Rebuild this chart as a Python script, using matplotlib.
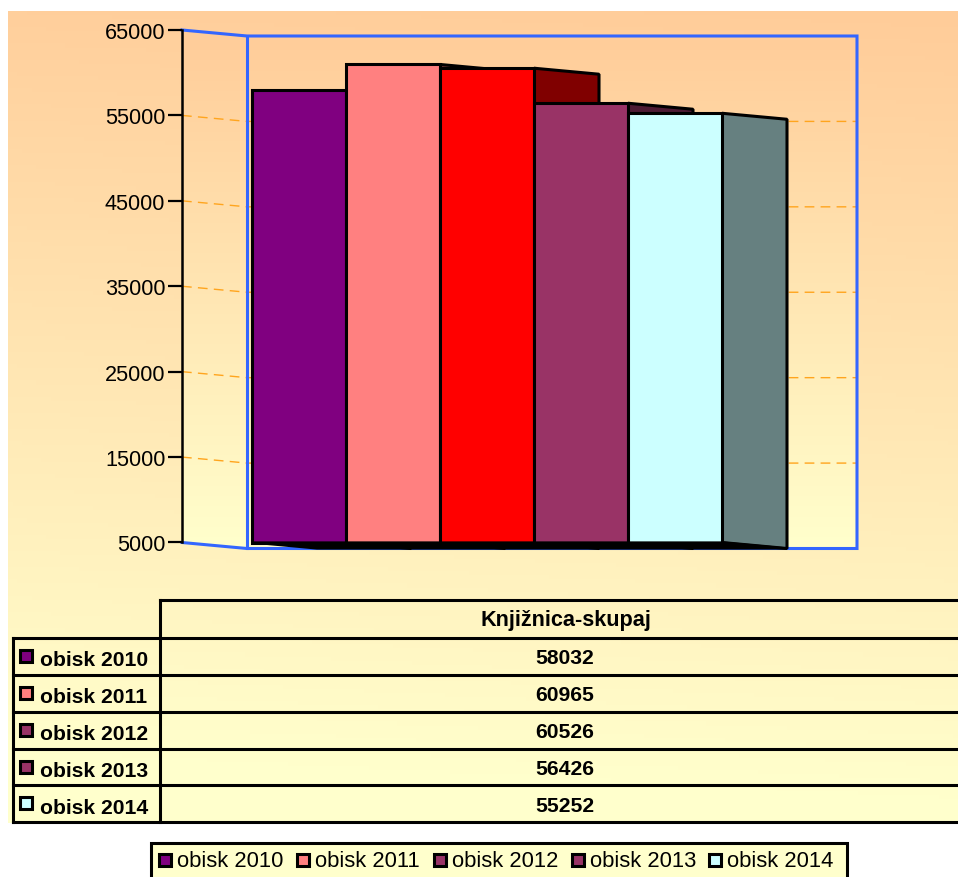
"""Knjiznica-skupaj: visits 2010-2014, old-style 3D bars with a data table below."""
import matplotlib
matplotlib.use("Agg")
import matplotlib.pyplot as plt
from matplotlib.patches import Polygon, Rectangle
import numpy as np

plt.rcParams["font.family"] = ["Liberation Sans", "DejaVu Sans"]

series = ["obisk 2010", "obisk 2011", "obisk 2012", "obisk 2013", "obisk 2014"]
visits = [58032, 60965, 60526, 56426, 55252]
bar_colors = ["#800080", "#FF8080", "#FF0000", "#993366", "#CCFFFF"]
side_colors = ["#400040", "#804040", "#800000", "#4D1A33", "#668080"]
key_colors = ["#800080", "#FF8080", "#993366", "#993366", "#CCFFFF"]
y_ticks = [5000, 15000, 25000, 35000, 45000, 55000, 65000]
table_title = "Knjižnica-skupaj"

W, H = 958, 878
PX_Y = 512.5 / 60000      # px per visit
BAR_PX = 94.0             # bar width in px
DX_PX, DY_PX = 65.0, 6.0  # depth of the 3D box
X0_PX = 252.0             # left edge of first bar
LW = 2.2

C_WALL = "#3366FF"
C_GRID = "#FFA51E"


def gradient(rows=200, cols=2):
    """peach to pale yellow, top to bottom"""
    t = np.linspace(0, 1, rows)[:, None, None]
    top = np.array([255, 204, 153]) / 255
    bot = np.array([255, 255, 204]) / 255
    return np.tile(top + (bot - top) * t, (1, cols, 1))


fig = plt.figure(figsize=(W / 100, H / 100), dpi=100, facecolor="white")

# ---- page layer: background, table, legend (pixel coordinates) ----
page = fig.add_axes([0, 0, 1, 1])
page.set_xlim(0, W)
page.set_ylim(H, 0)
page.axis("off")

# slightly diagonal page background
yy, xx = np.mgrid[0:1:200j, 0:1:200j]
t = np.clip(yy * 1.03 + (1 - xx) * 0.06, 0, 1)[:, :, None]
bg = (np.array([255, 204, 153]) + (np.array([255, 255, 204]) - np.array([255, 204, 153])) * t) / 255
page.imshow(bg, extent=(8, W, 824, 12), aspect="auto", zorder=0)
page.set_xlim(0, W)
page.set_ylim(H, 0)

# table grid
ROW_Y = [638.5, 675.5, 712.5, 749.5, 786.5, 823.5]
line_kw = dict(color="black", lw=LW, solid_capstyle="projecting", zorder=2)
page.plot([160, W], [600.5, 600.5], **line_kw)
for y_row in ROW_Y:
    page.plot([13, W], [y_row, y_row], **line_kw)
page.plot([13, 13], [638.5, 823.5], **line_kw)
page.plot([160, 160], [600.5, 823.5], **line_kw)

page.text(565.5, 620.5, table_title, ha="center", va="center", fontsize=15.6,
          fontweight="bold", zorder=3)
for i, (name, val) in enumerate(zip(series, visits)):
    yc = (ROW_Y[i] + ROW_Y[i + 1]) / 2 - 0.5
    page.add_patch(Rectangle((20.5, yc - 6), 12, 12, fc=key_colors[i], ec="black",
                             lw=LW, zorder=3))
    page.text(40, yc + 4, name, ha="left", va="center", fontsize=15.2,
              fontweight="bold", zorder=3)
    page.text(565, yc + 2, str(val), ha="center", va="center", fontsize=15.2,
              fontweight="bold", zorder=3)

# bottom legend, runs off the lower image edge
page.add_patch(Rectangle((151, 844), 696, 40, fc="#FFFFCC", ec="black", lw=LW,
                         clip_on=True, zorder=2))
KEY_X = [159, 297, 434, 572, 709]
for name, c, kx in zip(series, key_colors, KEY_X):
    page.add_patch(Rectangle((kx, 855), 12, 12, fc=c, ec="black", lw=LW, zorder=3))
    page.text(kx + 18, 861.5, name, ha="left", va="center", fontsize=15.8, zorder=3)

# ---- chart layer: y axis in visits, x axis in bar widths ----
ax_left, ax_right = 182.0, 870.0
ax = fig.add_axes([ax_left / W, 1 - 543.5 / H, (ax_right - ax_left) / W, 512.5 / H])
ax.patch.set_alpha(0)
to_x = lambda px: (px - X0_PX) / BAR_PX
DX = DX_PX / BAR_PX
DY = DY_PX / PX_Y
YMIN, YMAX = y_ticks[0], y_ticks[-1]
x_wall_l, x_wall_b = to_x(182), to_x(247)
x_wall_r = to_x(857)

# walls share one vertical gradient
wall = Polygon([(x_wall_l, YMAX), (x_wall_b, YMAX - DY), (x_wall_r, YMAX - DY),
                (x_wall_r, YMIN - DY), (x_wall_b, YMIN - DY), (x_wall_l, YMIN)],
               closed=True, fc="none", ec="none", transform=ax.transData, clip_on=False)
ax.add_patch(wall)
im = ax.imshow(gradient(), extent=(x_wall_l, x_wall_r, YMIN - DY, YMAX), aspect="auto", zorder=0)
im.set_clip_box(fig.bbox)
im.set_clip_path(wall)

# gridlines on side and back wall
for v in y_ticks[1:-1]:
    ax.plot([x_wall_l, x_wall_b, x_wall_r], [v, v - DY, v - DY], color=C_GRID, lw=1.0,
            dashes=(7, 4.5), zorder=1, clip_on=False)

# blue wall frame
frame_kw = dict(color=C_WALL, lw=LW, zorder=1.5, clip_on=False, solid_joinstyle="miter")
ax.plot([x_wall_l, x_wall_b, x_wall_r, x_wall_r, x_wall_b, x_wall_l],
        [YMAX, YMAX - DY, YMAX - DY, YMIN - DY, YMIN - DY, YMIN], **frame_kw)
ax.plot([x_wall_b, x_wall_b], [YMAX - DY, YMIN - DY], **frame_kw)

# bars, painted left to right so each front hides the previous side face
edge_kw = dict(ec="black", lw=LW, joinstyle="bevel", clip_on=False)
n = len(visits)
for i, (val, c, sc) in enumerate(zip(visits, bar_colors, side_colors)):
    ax.add_patch(Polygon([(i + 1, YMIN), (i + 1, val), (i + 1 + DX, val - DY),
                          (i + 1 + DX, YMIN - DY)], fc=sc, zorder=3 + i, **edge_kw))
    ax.bar(i, val - YMIN, width=1, bottom=YMIN, align="edge", color=c, edgecolor="black",
           linewidth=LW, zorder=3 + i + 0.5, clip_on=False)
# black underside sits on top of the side-face feet
ax.add_patch(Polygon([(0, YMIN), (n, YMIN), (n + DX, YMIN - DY), (DX, YMIN - DY)],
                     fc="black", ec="black", lw=1.6, zorder=20, clip_on=False))

ax.set_xlim(to_x(ax_left), to_x(ax_right))
ax.set_ylim(YMIN, YMAX)
ax.set_xticks([])
ax.set_yticks(y_ticks)
ax.tick_params(axis="y", length=10, width=1.6, pad=2, labelsize=15.6, direction="out")
ax.spines[["top", "right", "bottom"]].set_visible(False)
ax.spines["left"].set_linewidth(1.8)
ax.spines["left"].set_zorder(2)

fig.savefig("out.png", dpi=100)
